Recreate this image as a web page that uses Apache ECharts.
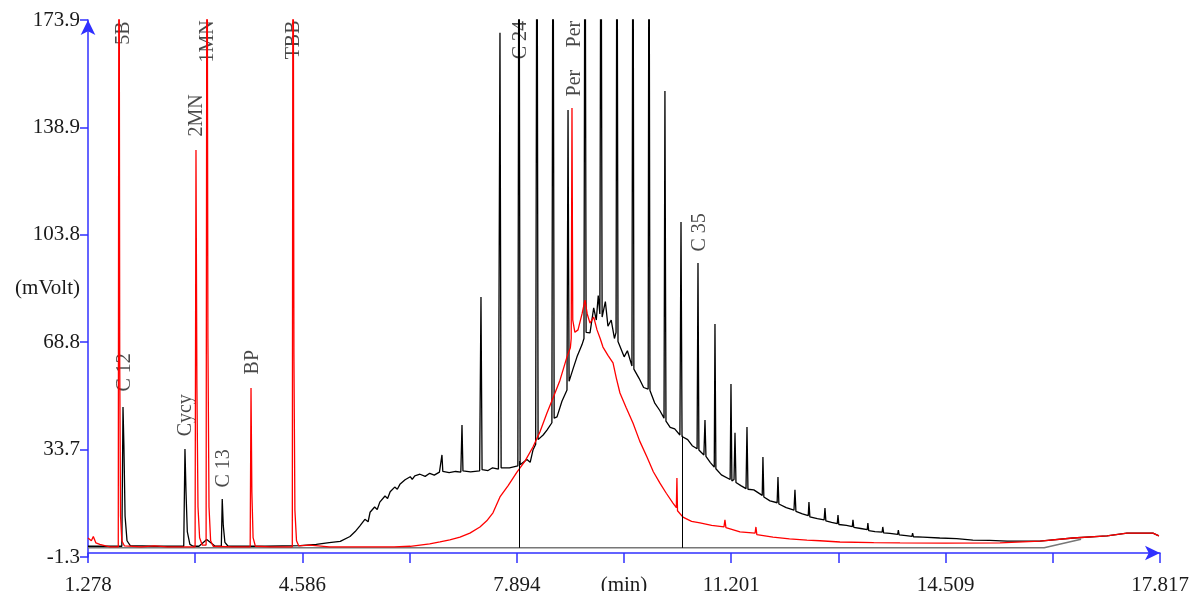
<!DOCTYPE html>
<html>
<head>
<meta charset="utf-8">
<title>chromatogram</title>
<script src="https://cdn.jsdelivr.net/npm/echarts@6/dist/echarts.min.js"></script>
<style>
  html, body { margin: 0; padding: 0; background: #fff; }
  #chart { width: 1196px; height: 591px; }
</style>
</head>
<body>
<div id="chart"></div>
<script>
// axis extents
var xMin = 1.278, xMax = 17.817, xStep = 1.6539;
var yMin = -1.3, yMax = 173.9, yStep = 35.04;

// sample trace (black): [min, mVolt]
var blackTrace = [
  [1.278, 2.2], [1.50, 2.2], [1.80, 2.2],
  [1.818, 47.6], [1.832, 35], [1.85, 12], [1.88, 4], [1.93, 2.4],
  [2.30, 2.2], [2.755, 2.2], [2.774, 33.9], [2.79, 20], [2.81, 7], [2.85, 2.8], [2.90, 2.2],
  [2.99, 2.2], [3.11, 4.4], [3.24, 2.2],
  [3.335, 2.2], [3.349, 17.6], [3.365, 9], [3.39, 3.5], [3.44, 2.2],
  [4.0, 2.2], [4.55, 2.4], [4.80, 2.8], [5.0, 3.4], [5.17, 3.8], [5.32, 5.4], [5.40, 7.0],
  [5.47, 8.8], [5.55, 11.0], [5.60, 10.2], [5.63, 13.3], [5.70, 15.0], [5.74, 14.2], [5.78, 16.6],
  [5.86, 18.6], [5.90, 17.8], [5.94, 20.0], [6.01, 21.5], [6.05, 20.8], [6.09, 22.4], [6.17, 23.9],
  [6.25, 24.9], [6.28, 24.0], [6.32, 25.2], [6.40, 25.7], [6.48, 25.0], [6.55, 26.0], [6.62, 25.4],
  [6.70, 26.4], [6.725, 26.8], [6.739, 32.0], [6.752, 26.6], [6.85, 26.2], [6.95, 26.6],
  [7.03, 26.4], [7.048, 41.8], [7.063, 26.8], [7.18, 26.5], [7.32, 26.8], [7.341, 83.5],
  [7.358, 27.2], [7.45, 26.9], [7.52, 27.8], [7.61, 27.4], [7.634, 169.7], [7.652, 27.8],
  [7.78, 27.8], [7.91, 28.4], [7.927, 240], [7.945, 28.8], [8.05, 30.5], [8.10, 29.6],
  [8.143, 33.6], [8.185, 35.5], [8.205, 240], [8.222, 37.0], [8.30, 38.5], [8.359, 40.1],
  [8.435, 42.5], [8.452, 240], [8.47, 44.0], [8.514, 44.4], [8.59, 49.5], [8.668, 53.2],
  [8.684, 144.5], [8.70, 56.0], [8.76, 60.0], [8.822, 64.0], [8.90, 68.0], [8.93, 70.0],
  [8.946, 240], [8.963, 72.0], [9.023, 71.8], [9.08, 80.0], [9.12, 76.0], [9.15, 84.0],
  [9.175, 78.0], [9.192, 240], [9.21, 77.0], [9.26, 82.0], [9.30, 74.0], [9.35, 76.0],
  [9.40, 70.0], [9.425, 72.0], [9.439, 240], [9.455, 69.0], [9.485, 69.5], [9.55, 64.0],
  [9.60, 66.0], [9.67, 61.0], [9.686, 240], [9.70, 60.0], [9.78, 57.0], [9.85, 54.0],
  [9.92, 53.5], [9.933, 240], [9.948, 53.0], [10.02, 49.0], [10.10, 46.5], [10.165, 44.0],
  [10.179, 150.7], [10.195, 43.0], [10.26, 41.0], [10.33, 40.5], [10.41, 38.5], [10.427, 108.0],
  [10.443, 38.0], [10.53, 37.0], [10.60, 35.0], [10.675, 34.0], [10.689, 94.6], [10.703, 33.6],
  [10.78, 32.0], [10.797, 43.4], [10.812, 31.5], [10.88, 29.5], [10.94, 28.0], [10.951, 74.7],
  [10.965, 27.5], [11.05, 25.5], [11.185, 24.0], [11.198, 55.1], [11.212, 23.5], [11.245, 24.0],
  [11.26, 39.2], [11.275, 23.0], [11.35, 22.0], [11.43, 21.0], [11.445, 41.1], [11.46, 20.8],
  [11.55, 20.6], [11.68, 18.8], [11.691, 31.3], [11.705, 18.3], [11.80, 17.0], [11.91, 16.4],
  [11.923, 24.8], [11.937, 16.0], [12.05, 14.8], [12.17, 14.0], [12.185, 20.6], [12.20, 13.6],
  [12.30, 12.8], [12.39, 12.2], [12.401, 16.6], [12.415, 11.8], [12.53, 11.2], [12.635, 10.8],
  [12.648, 14.7], [12.662, 10.5], [12.75, 10.0], [12.838, 9.6], [12.849, 12.4], [12.862, 9.3],
  [12.98, 9.0], [13.07, 8.6], [13.08, 10.8], [13.093, 8.4], [13.20, 8.0], [13.30, 7.6],
  [13.31, 9.8], [13.323, 7.3], [13.42, 7.0], [13.53, 6.8], [13.54, 8.5], [13.553, 6.6],
  [13.65, 6.4], [13.77, 6.1], [13.78, 7.5], [13.793, 5.9], [13.90, 5.7], [13.99, 5.4],
  [14.0, 6.5], [14.013, 5.3], [14.16, 5.2], [14.42, 4.9], [14.68, 4.7], [14.93, 4.2],
  [15.19, 4.1], [15.46, 3.9], [15.965, 3.9], [16.474, 4.9], [16.999, 5.6], [17.307, 6.5],
  [17.708, 6.5], [17.80, 5.6]
];

// standards trace (red)
var redTrace = [
  [1.278, 4.9], [1.33, 4.0], [1.36, 5.4], [1.40, 3.3], [1.46, 2.8], [1.55, 2.3], [1.62, 2.0],
  [1.745, 2.0], [1.756, 250], [1.768, 60], [1.78, 12], [1.80, 4], [1.84, 2.3],
  [2.1, 2.0], [2.3, 2.3], [2.5, 2.0], [2.93, 2.0], [2.944, 131.5], [2.958, 55], [2.975, 15],
  [3.0, 5], [3.04, 2.6], [3.10, 2.6], [3.114, 250], [3.128, 70], [3.145, 15], [3.17, 4],
  [3.21, 2.2], [3.50, 2.0], [3.78, 2.0], [3.793, 53.8], [3.806, 20], [3.825, 5], [3.86, 2.2],
  [4.10, 2.0], [4.43, 2.0], [4.441, 250], [4.455, 65], [4.47, 14], [4.495, 4], [4.53, 2.3],
  [4.70, 2.6], [5.0, 2.0], [5.5, 2.0], [6.0, 2.0], [6.25, 2.2], [6.40, 2.6], [6.55, 3.0],
  [6.708, 3.6], [6.86, 4.3], [7.017, 5.2], [7.17, 6.5], [7.325, 8.5], [7.43, 10.5],
  [7.526, 13.1], [7.634, 18.3], [7.76, 22.0], [7.896, 26.4], [8.02, 30.0], [8.143, 34.6],
  [8.25, 39.5], [8.359, 45.7], [8.46, 51.0], [8.56, 56.4], [8.668, 64.0], [8.72, 67.0],
  [8.733, 70.0], [8.745, 145.2], [8.757, 76.0], [8.79, 72.0], [8.838, 72.8], [8.90, 78.0],
  [8.946, 82.5], [8.98, 78.0], [9.023, 75.0], [9.08, 77.0], [9.131, 72.8], [9.18, 70.0],
  [9.223, 67.2], [9.30, 64.5], [9.378, 62.0], [9.43, 57.0], [9.485, 52.2], [9.58, 47.5],
  [9.686, 42.4], [9.79, 36.5], [9.902, 31.3], [10.0, 26.5], [10.102, 22.8], [10.20, 19.5],
  [10.303, 16.3], [10.355, 14.8], [10.364, 24.5], [10.373, 13.8], [10.457, 11.7], [10.59, 10.3],
  [10.72, 9.8], [10.90, 9.0], [11.09, 8.5], [11.105, 10.8], [11.12, 8.3], [11.337, 6.9],
  [11.57, 6.5], [11.583, 8.5], [11.597, 6.0], [11.846, 5.2], [12.1, 4.6], [12.37, 4.2],
  [12.571, 4.0], [12.879, 3.6], [13.4, 3.4], [13.805, 3.3], [14.5, 3.2], [15.348, 3.3],
  [15.965, 3.9], [16.474, 4.9], [16.999, 5.6], [17.307, 6.5], [17.708, 6.5], [17.80, 5.6]
];

// integration baseline
var baseLine = [[1.278, 1.7], [16.03, 1.7], [16.6, 4.5]];

// drop lines: [time, from, to]
var dropLines = [[7.927, 1.7, 30.0], [10.44, 1.7, 38.3]];

// peak names: [time, mVolt at foot of text, name]
var peakNames = [
  [1.833, 165.7, '5B'], [2.960, 135.7, '2MN'], [3.129, 159.9, '1MN'], [4.456, 160.9, 'TBB'],
  [1.849, 52.5, 'C 12'], [2.790, 37.9, 'Cycy'], [3.376, 21.2, 'C 13'], [3.824, 58.1, 'BP'],
  [7.958, 160.9, 'C 24'], [8.791, 148.8, 'Per'], [8.791, 164.8, 'Per'], [10.720, 98.2, 'C 35']
];

var font = 'Liberation Serif';
var chart = echarts.init(document.getElementById('chart'));

chart.setOption({
  backgroundColor: '#fff',
  animation: false,
  grid: { left: 88, right: 36, top: 20, bottom: 34, containLabel: false, outerBoundsMode: 'none' },
  xAxis: {
    type: 'value',
    min: xMin, max: xMax, interval: xStep,
    name: '(min)', nameLocation: 'middle', nameGap: 18, nameMoveOverlap: false,
    nameTextStyle: { fontFamily: font, fontSize: 21, color: '#1a1a1a' },
    axisLine: { lineStyle: { color: '#3030ff', width: 1.5 }, symbol: ['none', 'arrow'], symbolSize: [11, 15], symbolOffset: [0, 0] },
    axisTick: { length: 10, lineStyle: { color: '#3030ff', width: 1.5 } },
    axisLabel: {
      margin: 18, fontFamily: font, fontSize: 21, color: '#1a1a1a', showMinLabel: true, showMaxLabel: true,
      formatter: function (v) {
        var k = Math.round((v - xMin) / xStep);
        return k % 2 === 0 ? v.toFixed(3) : '';
      }
    },
    splitLine: { show: false }
  },
  yAxis: {
    type: 'value',
    min: yMin, max: yMax, interval: yStep,
    name: '(mVolt)', nameLocation: 'middle', nameRotate: 0, nameGap: 8, nameMoveOverlap: false,
    nameTextStyle: { fontFamily: font, fontSize: 21, color: '#1a1a1a' },
    axisLine: { lineStyle: { color: '#3030ff', width: 1.5 }, symbol: ['none', 'arrow'], symbolSize: [11, 15], symbolOffset: [0, 0] },
    axisTick: { length: 8, lineStyle: { color: '#3030ff', width: 1.5 } },
    axisLabel: {
      margin: 8, fontFamily: font, fontSize: 21, color: '#1a1a1a', showMinLabel: true, showMaxLabel: true,
      formatter: function (v) { return v.toFixed(1); }
    },
    splitLine: { show: false }
  },
  series: [
    {
      name: 'baseline', type: 'line', data: baseLine, showSymbol: false, silent: true,
      lineStyle: { color: '#777', width: 1.5 }
    },
    {
      name: 'sample', type: 'line', data: blackTrace, showSymbol: false, sampling: null, silent: true,
      lineStyle: { color: '#000', width: 1.3 },
      markLine: {
        silent: true, symbol: ['none', 'none'], label: { show: false },
        lineStyle: { color: '#000', width: 1, type: 'solid' },
        data: dropLines.map(function (d) { return [{ coord: [d[0], d[1]] }, { coord: [d[0], d[2]] }]; })
      }
    },
    {
      name: 'standards', type: 'line', data: redTrace, showSymbol: false, silent: true,
      lineStyle: { color: '#ff0000', width: 1.3 }
    },
    {
      name: 'names', type: 'scatter', data: peakNames, symbolSize: 1, silent: true, clip: false,
      itemStyle: { color: 'rgba(0,0,0,0)' },
      label: {
        show: true, position: [0, 0], rotate: 90, align: 'left', verticalAlign: 'middle',
        fontFamily: font, fontSize: 20, color: '#1a1a1a',
        formatter: function (p) { return p.data[2]; }
      }
    }
  ]
});
</script>
</body>
</html>
